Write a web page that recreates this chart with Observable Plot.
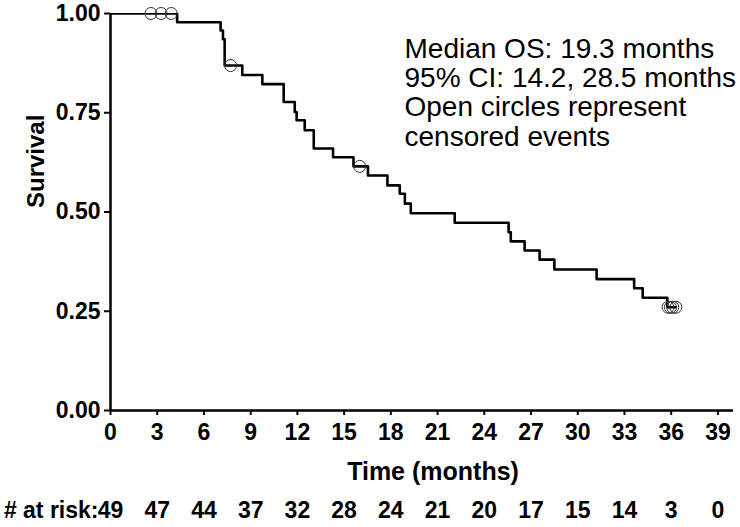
<!DOCTYPE html>
<html><head><meta charset="utf-8">
<script src="https://cdn.jsdelivr.net/npm/d3@7"></script>
<script src="https://cdn.jsdelivr.net/npm/@observablehq/plot@0.6"></script>
<style>
body{margin:0;background:#fff}
svg [aria-label^="x-axis"] path, svg [aria-label^="x-axis"] line,
svg [aria-label^="y-axis"] path, svg [aria-label^="y-axis"] line {stroke-width:2px;stroke:#000}
</style>
</head><body><div id="chart"></div>
<script>
// Kaplan-Meier step points (time in months, survival after the step)
const eventTimes = [0, 4.28, 7.07, 7.22, 7.33, 8.46, 9.75, 11.12, 11.83, 11.95, 12.47, 13.05, 14.29, 15.6, 16.53, 17.78, 18.57, 18.9, 19.28, 22.1, 25.56, 25.7, 26.59, 27.55, 28.5, 31.21, 33.62, 34.17, 35.75, 36.3];
const survival   = [1, 0.978, 0.957, 0.935, 0.869, 0.845, 0.822, 0.777, 0.752, 0.731, 0.706, 0.66, 0.638, 0.615, 0.592, 0.567, 0.546, 0.521, 0.497, 0.473, 0.449, 0.426, 0.403, 0.38, 0.355, 0.331, 0.308, 0.284, 0.26, 0.26];
const censorTimes = [2.6, 3.25, 3.9, 7.71, 16.0, 35.8, 35.95, 36.1, 36.3];
const xTicks = [0, 3, 6, 9, 12, 15, 18, 21, 24, 27, 30, 33, 36, 39];
const yTicks = [0, 0.25, 0.5, 0.75, 1];
const atRiskTimes = [0, 3, 6, 9, 12, 15, 18, 21, 24, 27, 30, 33, 36, 39];
const atRiskCounts = [49, 47, 44, 37, 32, 28, 24, 21, 20, 17, 15, 14, 3, 0];
const annotation1 = ["Median OS: 19.3 months", "95% CI: 14.2, 28.5 months"];
const annotation2 = ["Open circles represent", "censored events"];

const curve = eventTimes.map((t, i) => ({t, s: survival[i]}));
const censors = censorTimes.map(t => {
  const i = d3.bisectRight(eventTimes, t) - 1;
  return {t, s: survival[Math.max(0, i)]};
});
const atRisk = atRiskTimes.map((t, i) => ({t, n: atRiskCounts[i]}));

const font = "Liberation Sans, Arial, Helvetica, sans-serif";
const annotMarks = [];
[[annotation1, [57, 86]], [annotation2, [115, 145]]].forEach(([lines, bases]) => {
  lines.forEach((txt, i) => {
    annotMarks.push(Plot.text([txt], {
      frameAnchor: "top-left", dx: 294, dy: bases[i] - 13, text: d => d,
      textAnchor: "start", lineAnchor: "bottom", fontSize: 28, fontWeight: "normal", fill: "#000"
    }));
  });
});

const plot = Plot.plot({
  width: 740, height: 527,
  marginTop: 13, marginRight: 7, marginBottom: 117, marginLeft: 110,
  style: {fontFamily: font, fontSize: "23px", fontWeight: "bold", background: "#fff", color: "#000", overflow: "visible"},
  x: {domain: [0, 40], ticks: xTicks, tickFormat: d => String(d), tickSize: 5, tickPadding: 8, label: null},
  y: {domain: [0, 1], ticks: yTicks, tickFormat: d3.format(".2f"), tickSize: 6, tickPadding: 4, label: null},
  marks: [
    Plot.line(curve, {x: "t", y: "s", curve: "step-after", stroke: "#000", strokeWidth: 2.6, clip: true}),
    Plot.dot(censors, {x: "t", y: "s", r: 6, stroke: "#333", strokeWidth: 1, fill: "none"}),
    Plot.ruleY([0], {stroke: "#000", strokeWidth: 2.5}),
    Plot.ruleX([0], {stroke: "#000", strokeWidth: 2.5}),
    ...annotMarks,
    Plot.text(["Survival"], {frameAnchor: "left", text: d => d, rotate: -90, dx: -74, dy: -4, fontSize: 24, fontWeight: "bold", fill: "#000"}),
    Plot.text(["Time (months)"], {frameAnchor: "bottom", text: d => d, dx: 11, dy: 69, lineAnchor: "bottom", fontSize: 25, fontWeight: "bold", fill: "#000"}),
    Plot.text(atRisk, {x: "t", text: d => String(d.n), frameAnchor: "bottom", dy: 107, lineAnchor: "bottom", fontSize: 23, fontWeight: "bold", fill: "#000"}),
    Plot.text(["# at risk:"], {x: () => 0, text: d => d, frameAnchor: "bottom", dy: 107, dx: -12, textAnchor: "end", lineAnchor: "bottom", fontSize: 23, fontWeight: "bold", fill: "#000"})
  ]
});
document.getElementById("chart").appendChild(plot);
</script>
</body></html>
